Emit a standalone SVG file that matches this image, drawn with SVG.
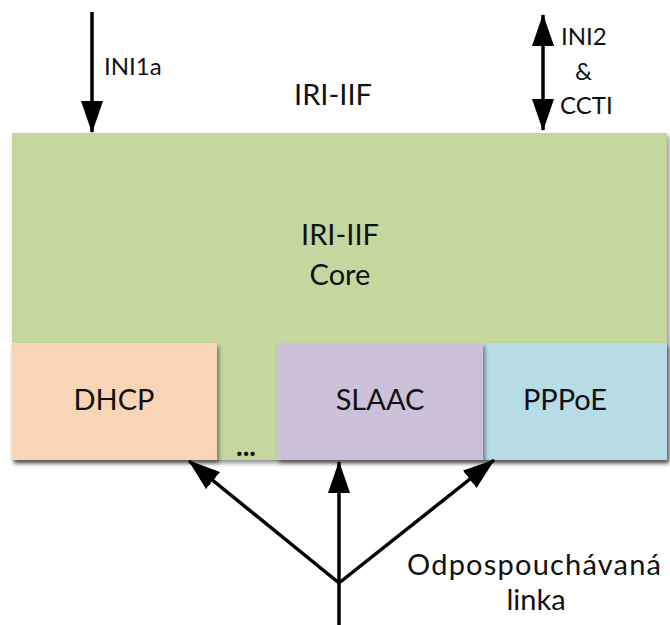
<svg xmlns="http://www.w3.org/2000/svg" width="670" height="625" viewBox="0 0 670 625">
  <defs>
    <marker id="head" viewBox="0 0 32 22" refX="31" refY="11" markerWidth="32" markerHeight="22" orient="auto-start-reverse" markerUnits="userSpaceOnUse">
      <path d="M0,0 L32,11 L0,22 z" fill="#000"/>
    </marker>
    <filter id="shadow" x="-5%" y="-5%" width="115%" height="120%">
      <feDropShadow dx="2" dy="3" stdDeviation="2" flood-color="#000" flood-opacity="0.45"/>
    </filter>
  </defs>
  <style>
    text { font-family: "Lato", "Open Sans", "Liberation Sans", sans-serif; fill: #111; }
    .lbl { font-size: 24px; }
    .big { font-size: 29px; text-anchor: middle; }
    .conn { stroke: #000; stroke-width: 3.5; fill: none; }
  </style>
  <rect width="670" height="625" fill="#fff"/>

  <g id="core">
    <rect x="12" y="133" width="655" height="327" fill="#c4d79f" filter="url(#shadow)"/>
    <text class="big" x="340" y="245">IRI-IIF</text>
    <text class="big" x="340" y="285">Core</text>
  </g>

  <g id="dhcp">
    <rect x="12" y="343" width="205" height="117" fill="#f9d5b8" filter="url(#shadow)"/>
    <text class="big" x="114" y="410">DHCP</text>
  </g>

  <g id="ellipsis">
    <text x="246" y="456" font-size="28" text-anchor="middle" font-weight="bold">...</text>
  </g>

  <g id="pppoe">
    <rect x="483" y="343" width="184" height="117" fill="#b7dce6" filter="url(#shadow)"/>
    <text class="big" x="565" y="410">PPPoE</text>
  </g>

  <g id="slaac">
    <rect x="277" y="343" width="206" height="117" fill="#ccc1d9" filter="url(#shadow)"/>
    <text class="big" x="380" y="410">SLAAC</text>
  </g>

  <g id="labels">
    <text class="big" x="333" y="105">IRI-IIF</text>
    <text class="lbl" x="104" y="75">INI1a</text>
    <text class="lbl" x="561" y="45">INI2</text>
    <text class="lbl" x="575" y="80">&amp;</text>
    <text class="lbl" x="560" y="114">CCTI</text>
    <text class="big" x="534" y="575" textLength="254">Odpospouchávaná</text>
    <text class="big" x="536" y="610">linka</text>
  </g>

  <g id="connectors">
    <line class="conn" x1="92" y1="12" x2="92" y2="132" marker-end="url(#head)"/>
    <line class="conn" x1="543" y1="15" x2="543" y2="130" marker-start="url(#head)" marker-end="url(#head)"/>
    <line class="conn" x1="339" y1="625" x2="339" y2="583"/>
    <line class="conn" x1="339" y1="583" x2="339" y2="462" marker-end="url(#head)"/>
    <line class="conn" x1="339" y1="583" x2="189" y2="461" marker-end="url(#head)"/>
    <line class="conn" x1="339" y1="583" x2="494" y2="460" marker-end="url(#head)"/>
  </g>
</svg>
